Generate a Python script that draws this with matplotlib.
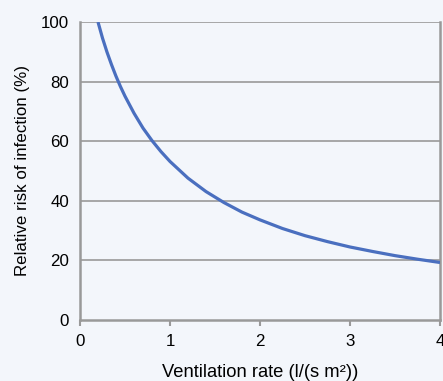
import matplotlib
matplotlib.use("Agg")
import matplotlib.pyplot as plt

ventilation = [0.2, 0.25, 0.3, 0.35, 0.4, 0.45, 0.5, 0.6, 0.7, 0.8, 0.9, 1.0,
               1.2, 1.4, 1.6, 1.8, 2.0, 2.25, 2.5, 2.75, 3.0, 3.25, 3.5, 3.75, 4.0]
risk = [100, 94.6, 89.9, 85.7, 81.8, 78.3, 75.1, 69.4, 64.4, 60.2, 56.5, 53.2,
        47.6, 43.1, 39.4, 36.2, 33.6, 30.7, 28.3, 26.3, 24.5, 23.0, 21.6, 20.4, 19.3]
x_ticks = [0, 1, 2, 3, 4]
y_ticks = [0, 20, 40, 60, 80, 100]

plt.rcParams['font.family'] = ['Liberation Sans', 'DejaVu Sans']
bg = '#f3f6fb'
grey = '#999999'

fig = plt.figure(figsize=(4.43, 3.81), dpi=100, facecolor=bg)
ax = fig.add_axes([80/443, 1-320/381, 360/443, 298/381], facecolor=bg)

for yv in y_ticks[1:]:
    ax.axhline(yv, color=grey, lw=1.2, zorder=1)

ax.plot(ventilation, risk, color='#4a6fbf', lw=2.3, zorder=3, solid_capstyle='butt')

ax.set_xlim(0, 4)
ax.set_ylim(0, 100)
ax.set_xticks(x_ticks)
ax.set_yticks(y_ticks)
ax.tick_params(axis='x', length=4, width=1.5, color=grey, labelsize=12.2, pad=6)
ax.tick_params(axis='y', length=0, labelsize=12.2, pad=8)

ax.spines['top'].set_visible(False)
for side in ['left', 'bottom', 'right']:
    ax.spines[side].set_color(grey)
    ax.spines[side].set_linewidth(1.8)

ax.set_xlabel('Ventilation rate (l/(s m²))', fontsize=13.2, labelpad=11)
ax.set_ylabel('Relative risk of infection (%)', fontsize=12.2, labelpad=8)

fig.savefig('out.png', dpi=100, facecolor=bg)
